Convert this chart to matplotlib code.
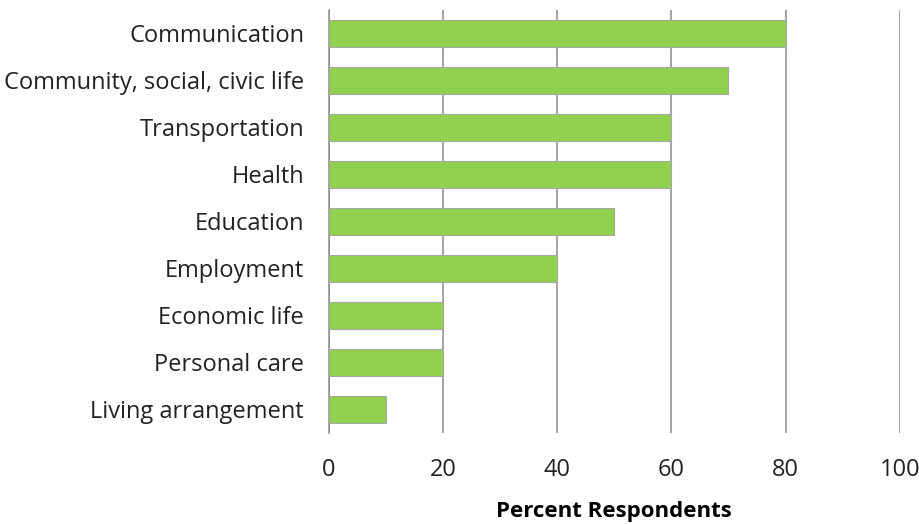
import matplotlib.pyplot as plt
import numpy as np

plt.rcParams['font.family'] = ['Open Sans', 'DejaVu Sans']

# Data (top to bottom as shown)
categories = ['Communication', 'Community, social, civic life', 'Transportation',
              'Health', 'Education', 'Employment', 'Economic life',
              'Personal care', 'Living arrangement']
percent = [80, 70, 60, 60, 50, 40, 20, 20, 10]
x_ticks = [0, 20, 40, 60, 80, 100]

fig = plt.figure(figsize=(9.19, 5.24), dpi=100)
ax = fig.add_axes([0.358, 0.174, 0.621, 0.807])

y = np.arange(len(categories))
ax.barh(y, percent, height=0.57, color='#92D050', edgecolor='#A6A6A6',
        linewidth=0.8, zorder=3)

ax.set_ylim(len(categories) - 0.5, -0.5)
ax.set_xlim(0, 100)
ax.set_yticks(y)
ax.set_yticklabels(categories, fontsize=17, color='#222222')
ax.set_xticks(x_ticks)
ax.set_xticklabels([str(t) for t in x_ticks], fontsize=17, color='#222222')
ax.tick_params(axis='both', length=0)
ax.tick_params(axis='x', pad=18)
ax.tick_params(axis='y', pad=18)

ax.grid(axis='x', color='#8C8C8C', linewidth=1.1, zorder=0)
for s in ['top', 'right', 'bottom']:
    ax.spines[s].set_visible(False)
ax.spines['left'].set_color('#8C8C8C')
ax.spines['left'].set_linewidth(1.1)

ax.set_xlabel('Percent Respondents', fontsize=16, fontweight='bold', labelpad=14)

fig.savefig('out.png', dpi=100)
